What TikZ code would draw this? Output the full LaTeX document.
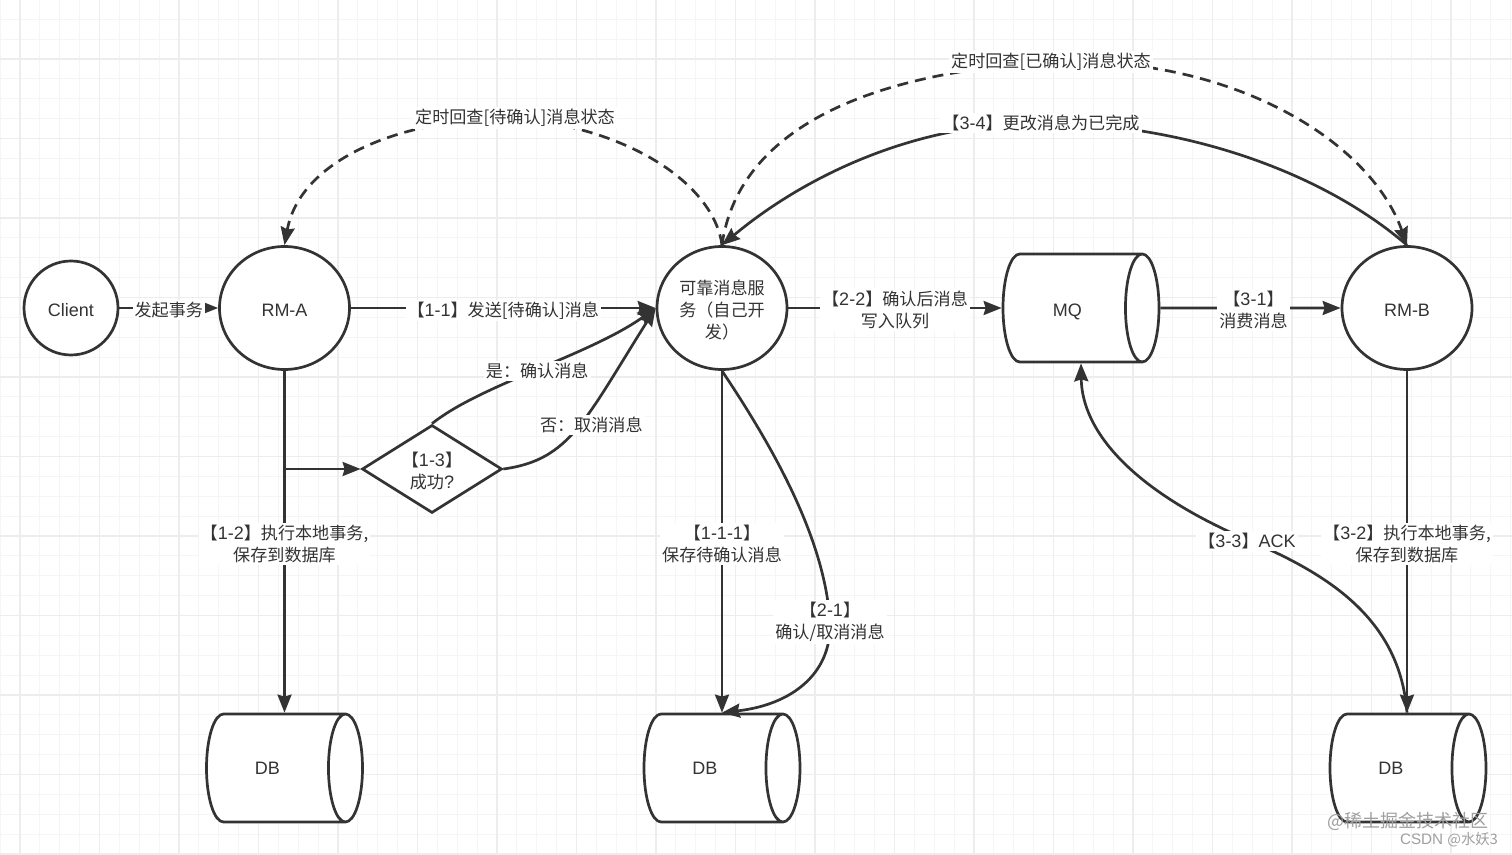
\documentclass[tikz,border=0pt]{standalone}
\usepackage{fontspec}
\setmainfont{Liberation Sans}
\newfontfamily\cjk[Scale=0.95]{Noto Sans CJK SC}
\usetikzlibrary{arrows.meta,shapes.geometric}
\definecolor{ink}{HTML}{333333}
\newcommand{\no}[1]{{\cjk【}#1{\cjk】}}
\newcommand{\low}[1]{\raisebox{-1pt}[\height][\depth]{#1}}
\begin{document}
\begin{tikzpicture}[
    x=0.5pt,y=-0.5pt,font=\fontsize{9}{11}\selectfont\color{ink},
    >={Stealth[length=9pt,width=7pt,inset=1pt]},
    line/.style={line width=1.35pt, ink},
    dashline/.style={line, dash pattern=on 5.5pt off 3.5pt},
    circ/.style={line, ellipse, draw, fill=white, inner sep=0pt, align=center, minimum width=65pt, minimum height=61.5pt},
    drum/.style={line, cylinder, draw, fill=white, inner sep=0pt, shape aspect=2.1, minimum width=54pt, minimum height=78pt, anchor=shape center},
    dbdrum/.style={drum, shape aspect=2.75},
    gate/.style={line, diamond, draw, fill=white, inner sep=0pt, align=center, shape aspect=1.6, minimum width=70pt, minimum height=44pt},
    tag/.style={fill=white, inner sep=1pt, align=center, yshift=-1.2pt},
    mark text/.style={text=gray!75, font=\fontsize{9.47}{11}\selectfont}
    ]
    \fill[white] (0, 0) rectangle (1512, 855);
    \useasboundingbox (0, 0) rectangle (1512, 855);
    % paper grid
    \foreach \k in {0,...,76} {
      \draw[black!4, line width=0.5pt] (0.1+19.875*\k, 0) -- (0.1+19.875*\k, 855);
      \draw[black!4, line width=0.5pt] (0, -0.6+19.875*\k) -- (1512, -0.6+19.875*\k);
    }
    \foreach \k in {0,...,18} {
      \draw[black!7, line width=0.9pt] (20+79.5*\k, 0) -- (20+79.5*\k, 855);
      \draw[black!7, line width=0.9pt] (0, 59+79.5*\k-79.5) -- (1512, 59+79.5*\k-79.5);
    }

    \node[circ, minimum width=47pt, minimum height=47pt] (client) at (71, 308) {\low{Client}};
    \node[circ] (rma) at (284.5, 308) {\low{RM-A}};
    \node[circ] (service) at (722, 308) {\low{\cjk 可靠消息服}\\\low{\cjk 务（自己开}\\\low{\cjk 发）}};
    \node[circ] (rmb) at (1407, 308) {\low{RM-B}};
    \node[gate] (check) at (432, 469) {\low{\no{1-3}}\\\low{{\cjk 成功}?}};
    \node[drum] (mq) at (1081, 308) {\raisebox{-2pt}[\height][\depth]{MQ}\rule{4.5pt}{0pt}};
    \node[dbdrum] (dba) at (284.5, 768) {DB\rule{8pt}{0pt}};
    \node[dbdrum] (dbb) at (722, 768) {DB\rule{8pt}{0pt}};
    \node[dbdrum] (dbc) at (1408, 768) {DB\rule{8pt}{0pt}};

    \draw[line,->] (client) -- node[tag] {\cjk 发起事务} (rma);
    \draw[line,->] (rma) -- node[tag] {\no{1-1}{\cjk 发送[待确认]消息}} (service);
    \draw[line,->] (rma.south) -- node[tag] {\no{1-2}{\cjk 执行本地事务,}\\{\cjk 保存到数据库}} (rma.south |- dba.north);
    \coordinate (branch) at (rma.south |- check.west);
    \draw[line,->] (branch) -- (check.west);
    \draw[line,->] (check.north) .. controls (480, 385) and (590, 355) .. node[tag] {{\cjk 是：确认消息}} (service.west);
    \draw[line,->] (check.east) .. controls (570, 460) and (585, 420) .. node[tag, pos=0.55, xshift=3.5pt, yshift=-1.5pt] {{\cjk 否：取消消息}} (service.west);
    \draw[line,->] (service.south) -- node[tag] {\no{1-1-1}\\{\cjk 保存待确认消息}} (service.south |- dbb.north);
    \draw[line,->] (service.south) .. controls (775, 450) and (825, 540) .. (830, 622) node[tag, yshift=1.2pt] {\no{2-1}\\{\cjk 确认/取消消息}} .. controls (832, 675) and (790, 705) .. (service.south |- dbb.north);
    \draw[line,->] (service) -- node[tag] {\no{2-2}{\cjk 确认后消息}\\{\cjk 写入队列}} (mq);
    \draw[line,->] (mq) -- node[tag, xshift=1.5pt] {\no{3-1}\\{\cjk 消费消息}} (rmb);
    \draw[line,->] (rmb.south) -- node[tag] {\no{3-2}{\cjk 执行本地事务,}\\{\cjk 保存到数据库}} (rmb.south |- dbc.north);
    \draw[line,->] (rmb.south |- dbc.north) .. controls (1400, 620) and (1330, 575) .. (1250, 541) node[tag, yshift=1.2pt, xshift=-1.5pt] {\no{3-3}ACK} .. controls (1130, 490) and (1082, 430) .. (mq.shape center |- mq.south);
    \draw[line,->] (rmb.north) .. controls (1320, 170) and (1180, 123) .. (1041, 123) node[tag, yshift=1.2pt] {\no{3-4}{\cjk 更改消息为已完成}} .. controls (910, 123) and (800, 180) .. (service.north);
    \draw[dashline,->] (service.north) .. controls (735, 150) and (830, 75) .. (1051, 62) node[tag, yshift=1.2pt] {{\cjk 定时回查[已确认]消息状态}} .. controls (1230, 55) and (1370, 140) .. (rmb.north);
    \draw[dashline,->] (service.north) .. controls (715, 190) and (640, 130) .. (515, 118) node[tag, yshift=1.2pt] {{\cjk 定时回查[待确认]消息状态}} .. controls (400, 118) and (300, 160) .. (rma.north);

    \node[mark text] (markone) at (1408, 821) {{\cjk @稀土掘金技术社区}};
    \node[mark text, font=\fontsize{7.6}{9}\selectfont] (marktwo) at (1449, 840) {CSDN {\cjk @水妖3}};
  \end{tikzpicture}
\end{document}
